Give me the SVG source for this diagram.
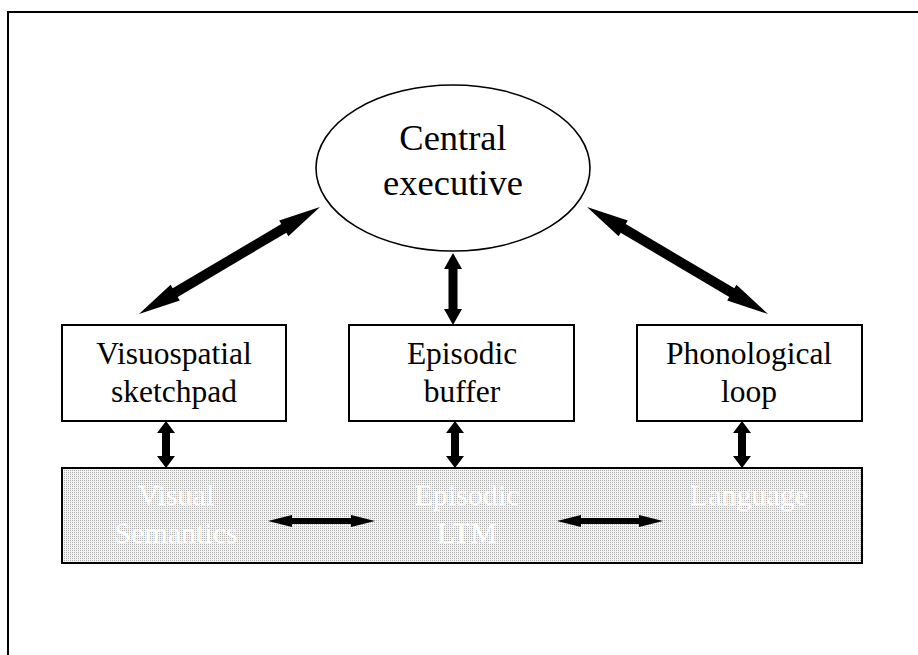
<svg xmlns="http://www.w3.org/2000/svg" width="918" height="655" viewBox="0 0 918 655">
<defs>
<pattern id="dots" x="0" y="0" width="2" height="2" patternUnits="userSpaceOnUse">
<rect width="2" height="2" fill="#f3f3f3"/>
<rect x="0" y="0" width="1" height="1" fill="#b0b0b0"/>
</pattern>
</defs>
<style>
.box{fill:#fff;stroke:#000;stroke-width:2}
.lbl{font-family:"Liberation Serif","Times New Roman",serif;font-size:31.5px;fill:#000;text-anchor:middle}
.big{font-size:36.5px}
.wt{font-family:"Liberation Serif","Times New Roman",serif;font-size:30px;fill:#fff;text-anchor:middle}
.arr{fill:#000;stroke:none}
</style>
<rect x="0" y="0" width="918" height="655" fill="#fff"/>
<rect x="8" y="12" width="930" height="670" fill="none" stroke="#000" stroke-width="2"/>

<g id="central-executive">
<ellipse cx="453" cy="168" rx="137" ry="83" fill="#fff" stroke="#000" stroke-width="1.6"/>
<text class="lbl big" x="453" y="150">Central</text>
<text class="lbl big" x="453" y="195">executive</text>
</g>

<g id="visuospatial-sketchpad">
<rect class="box" x="62" y="325" width="224" height="96"/>
<text class="lbl" x="174" y="364">Visuospatial</text>
<text class="lbl" x="174" y="402">sketchpad</text>
</g>

<g id="episodic-buffer">
<rect class="box" x="349" y="325" width="225" height="96"/>
<text class="lbl" x="462" y="364">Episodic</text>
<text class="lbl" x="462" y="402">buffer</text>
</g>

<g id="phonological-loop">
<rect class="box" x="637" y="325" width="225" height="96"/>
<text class="lbl" x="749" y="364">Phonological</text>
<text class="lbl" x="749" y="402">loop</text>
</g>

<g id="ltm-band">
<rect x="62" y="468" width="800" height="95" fill="url(#dots)" stroke="#000" stroke-width="2"/>
<g id="visual-semantics">
<text class="wt" x="176" y="505">Visual</text>
<text class="wt" x="176" y="543">Semantics</text>
</g>
<g id="episodic-ltm">
<text class="wt" x="467" y="505">Episodic</text>
<text class="wt" x="467" y="543">LTM</text>
</g>
<g id="language">
<text class="wt" x="749" y="505">Language</text>
</g>
</g>

<g id="connectors" class="arr">
<polygon points="320,207 288.4,236.2 286.35,232.71 177.75,296.91 179.8,300.4 139,314 170.6,284.8 172.65,288.29 281.25,224.09 279.2,220.6"/>
<polygon points="587,207 618.6,236.2 620.65,232.71 729.25,296.91 727.2,300.4 768,314 736.4,284.8 734.35,288.29 625.75,224.09 627.8,220.6"/>
<polygon points="453,253 462,269 457.5,269 457.5,309 462,309 453,325 444,309 448.5,309 448.5,269 444,269"/>
<polygon points="166,421 175,433 170,433 170,456 175,456 166,468 157,456 162,456 162,433 157,433"/>
<polygon points="455,421 464,433 459,433 459,456 464,456 455,468 446,456 451,456 451,433 446,433"/>
<polygon points="742,421 751,433 746,433 746,456 751,456 742,468 733,456 738,456 738,433 733,433"/>
<polygon points="268,521 292,515 292,518 351,518 351,515 375,521 351,527 351,524 292,524 292,527"/>
<polygon points="557,521 581,515 581,518 639,518 639,515 663,521 639,527 639,524 581,524 581,527"/>
</g>
</svg>
